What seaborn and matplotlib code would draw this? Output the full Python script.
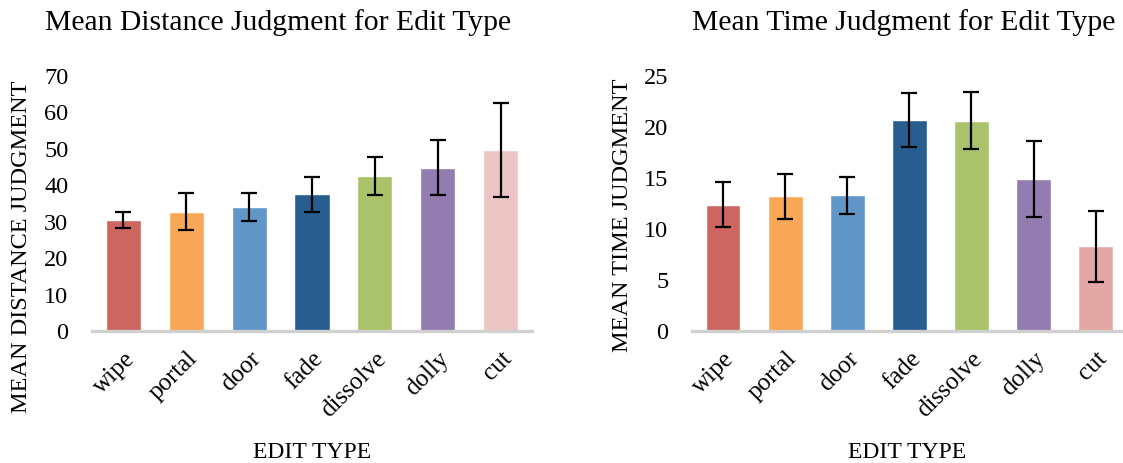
import matplotlib
matplotlib.use("Agg")
import matplotlib.pyplot as plt
import seaborn as sns
import pandas as pd
import numpy as np

sns.set_theme(style="white")
plt.rcParams['font.family'] = ['Liberation Serif', 'DejaVu Serif']

categories = ["wipe", "portal", "door", "fade", "dissolve", "dolly", "cut"]
distance_mean = [30.5, 32.8, 34.0, 37.6, 42.5, 44.8, 49.7]
distance_err = [2.3, 5.0, 3.9, 4.8, 5.3, 7.6, 12.9]
time_mean = [12.4, 13.2, 13.3, 20.7, 20.6, 14.9, 8.3]
time_err = [2.2, 2.2, 1.8, 2.65, 2.8, 3.7, 3.5]

colors_left = ["#CD6560", "#F9A857", "#6196C9", "#285E8F", "#AAC36B", "#937CB0", "#EBC5C4"]
colors_right = ["#CD6560", "#F9A857", "#6196C9", "#285E8F", "#AAC36B", "#937CB0", "#E3A8A5"]

W, H = 1123, 463
fig = plt.figure(figsize=(W / 100, H / 100), dpi=100)

def px_axes(x0, x1, ytop, ybot):
    return fig.add_axes([x0 / W, (H - ybot) / H, (x1 - x0) / W, (ybot - ytop) / H])

ax1 = px_axes(92, 532, 76, 331)
ax2 = px_axes(692, 1123, 76, 331)

def draw(ax, means, errs, colors, ymax, step, title, ylabel, title_x, xright, ylab_y):
    df = pd.DataFrame({"edit": categories, "val": means})
    sns.barplot(data=df, x="edit", y="val", hue="edit", palette=colors,
                order=categories, hue_order=categories, width=0.56,
                errorbar=None, legend=False, ax=ax, saturation=1)
    ax.errorbar(np.arange(len(categories)), means, yerr=errs, fmt="none",
                ecolor="black", elinewidth=1.6, capsize=6, capthick=1.6)
    ax.set_ylim(0, ymax)
    ax.set_yticks(np.arange(0, ymax + 0.1, step))
    ax.set_xlim(-0.5, xright)
    for s in ["top", "right", "left"]:
        ax.spines[s].set_visible(False)
    ax.spines["bottom"].set_color("#D0D0D0")
    ax.spines["bottom"].set_linewidth(2.4)
    ax.tick_params(axis="y", length=0, pad=17, labelsize=17.5, colors="black")
    ax.tick_params(axis="x", length=0, pad=12, labelsize=18, colors="black")
    for lab in ax.get_xticklabels():
        lab.set_rotation(45)
        lab.set_ha("right")
        lab.set_rotation_mode("anchor")
    ax.set_xlabel("EDIT TYPE", fontsize=17, color="black", va="center")
    ax.xaxis.set_label_coords(0.5, (331 - 452) / 255)
    ax.set_ylabel(ylabel, fontsize=17.5, color="black", va="center")
    ax.grid(False)
    fig.text(title_x / W, 1 - 23 / H, title, fontsize=21.3, ha="center", va="center", color="black")
    return ylab_y

draw(ax1, distance_mean, distance_err, colors_left, 70, 10,
     "Mean Distance Judgment for Edit Type", "MEAN DISTANCE JUDGMENT", 278, 6.5, 247)
draw(ax2, time_mean, time_err, colors_right, 25, 5,
     "Mean Time Judgment for Edit Type", "MEAN TIME JUDGMENT", 904, 6.44, 215)

ax1.yaxis.set_label_coords((22 - 92) / 440, (331 - 247) / 255)
ax2.yaxis.set_label_coords((622 - 692) / 431, (331 - 215) / 255)

fig.savefig("out.png", dpi=100, facecolor="white")
